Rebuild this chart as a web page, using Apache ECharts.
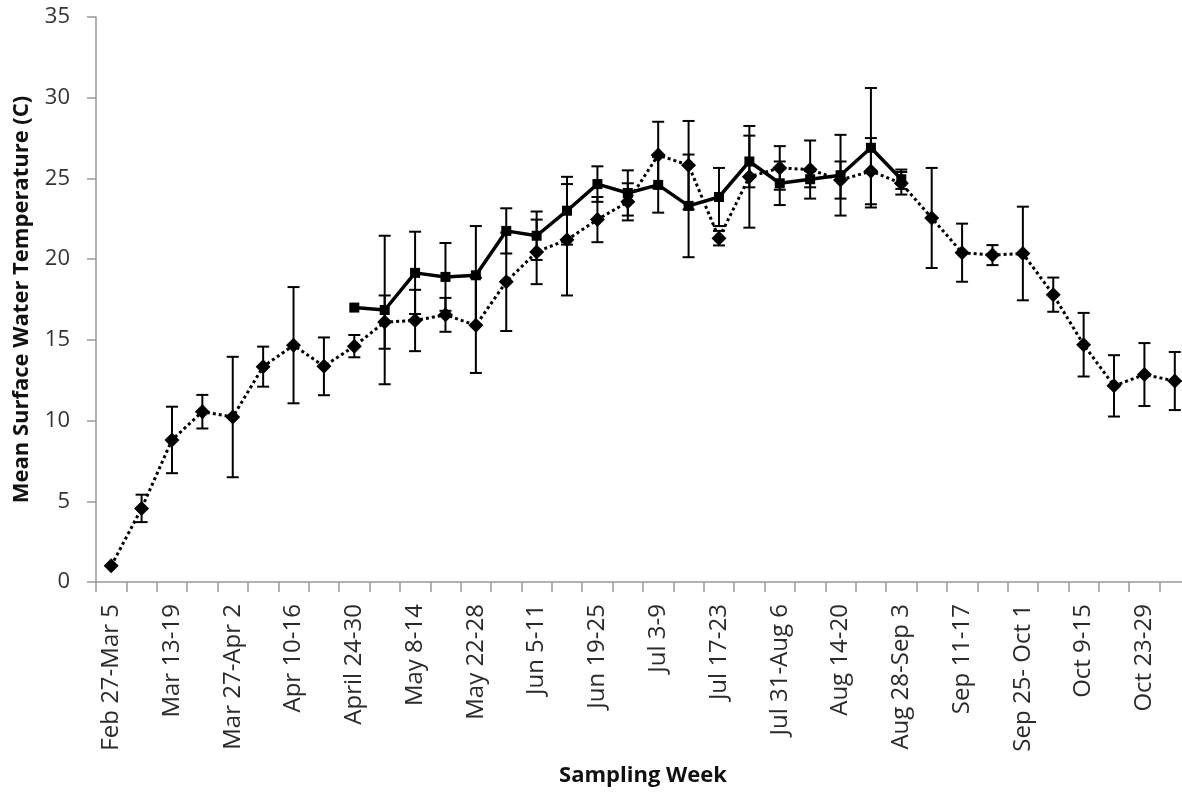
<!DOCTYPE html>
<html>
<head>
<meta charset="utf-8">
<script src="https://cdn.jsdelivr.net/npm/echarts@6/dist/echarts.min.js"></script>
<style>
html,body{margin:0;padding:0;background:#fff;}
#chart{width:1182px;height:792px;}
</style>
</head>
<body>
<div id="chart"></div>
<script>
var categories = ["Feb 27-Mar 5","Mar 6-12","Mar 13-19","Mar 20-26","Mar 27-Apr 2","Apr 3-9","Apr 10-16","Apr 17-23","April 24-30","May 1-7","May 8-14","May 15-21","May 22-28","May 29-Jun 4","Jun 5-11","Jun 12-18","Jun 19-25","Jun 26-Jul 2","Jul 3-9","Jul 10-16","Jul 17-23","Jul 24-30","Jul 31-Aug 6","Aug 7-13","Aug 14-20","Aug 21-27","Aug 28-Sep 3","Sep 4-10","Sep 11-17","Sep 18-24","Sep 25- Oct 1","Oct 2-8","Oct 9-15","Oct 16-22","Oct 23-29","Oct 30-Nov 5"];

var dottedMean = [1.0, 4.56, 8.8, 10.55, 10.22, 13.34, 14.67, 13.36, 14.61, 16.1, 16.2, 16.55, 15.9, 18.6, 20.45, 21.2, 22.45, 23.55, 26.45, 25.82, 21.3, 25.1, 25.65, 25.55, 24.9, 25.45, 24.7, 22.55, 20.4, 20.25, 20.35, 17.8, 14.7, 12.15, 12.85, 12.45];
var dottedErr = [0, 0.85, 2.06, 1.04, 3.73, 1.24, 3.6, 1.79, 0.69, 1.65, 1.9, 1.05, 2.95, 3.05, 2.0, 3.45, 1.4, 1.15, 2.06, 2.74, 0.45, 3.15, 1.35, 1.8, 1.15, 2.05, 0.7, 3.1, 1.8, 0.62, 2.9, 1.06, 1.97, 1.9, 1.95, 1.8];

var solidMean = [null, null, null, null, null, null, null, null, 17.0, 16.85, 19.15, 18.9, 19.0, 21.75, 21.45, 23.0, 24.65, 24.1, 24.6, 23.3, 23.85, 26.05, 24.7, 24.95, 25.2, 26.9, 24.95, null, null, null, null, null, null, null, null, null];
var solidErr = [null, null, null, null, null, null, null, null, 0, 4.6, 2.55, 2.1, 3.05, 1.4, 1.5, 2.1, 1.1, 1.4, 1.72, 3.18, 1.8, 1.6, 1.35, 0.5, 2.5, 3.7, 0.6, null, null, null, null, null, null, null, null, null];

var yTicks = [0, 5, 10, 15, 20, 25, 30, 35];

function errData(mean, err) {
  var out = [];
  for (var i = 0; i < mean.length; i++) {
    if (mean[i] !== null && err[i] !== null && err[i] > 0) out.push([i, mean[i] - err[i], mean[i] + err[i]]);
  }
  return out;
}

function renderErr(params, api) {
  var x = api.value(0);
  var lo = api.coord([x, api.value(1)]);
  var hi = api.coord([x, api.value(2)]);
  var hw = 6;
  var st = {stroke: '#000', lineWidth: 2};
  return {
    type: 'group',
    children: [
      {type: 'line', shape: {x1: lo[0], y1: lo[1], x2: hi[0], y2: hi[1]}, style: st},
      {type: 'line', shape: {x1: lo[0] - hw, y1: lo[1], x2: lo[0] + hw, y2: lo[1]}, style: st},
      {type: 'line', shape: {x1: hi[0] - hw, y1: hi[1], x2: hi[0] + hw, y2: hi[1]}, style: st}
    ]
  };
}

var FONT = 'Open Sans';
var chart = echarts.init(document.getElementById('chart'), null, {renderer: 'canvas'});
chart.setOption({
  animation: false,
  backgroundColor: '#fff',
  grid: {left: 96, right: -8, top: 17, bottom: 210, containLabel: false, outerBoundsMode: 'none'},
  xAxis: {
    type: 'category',
    data: categories,
    boundaryGap: true,
    name: 'Sampling Week',
    nameLocation: 'middle',
    nameGap: 183,
    nameTextStyle: {fontFamily: FONT, fontSize: 22, fontWeight: 'bold', color: '#111'},
    axisLine: {lineStyle: {color: '#999', width: 1.5}},
    axisTick: {show: true, interval: 0, length: 10, lineStyle: {color: '#999', width: 1.5}},
    axisLabel: {interval: 1, rotate: 90, margin: 22, fontFamily: FONT, fontSize: 24, color: '#2a2a2a'},
    splitLine: {show: false}
  },
  yAxis: {
    type: 'value',
    min: yTicks[0],
    max: yTicks[yTicks.length - 1],
    interval: 5,
    name: 'Mean Surface Water Temperature (C)',
    nameLocation: 'middle',
    nameRotate: 90,
    nameGap: 63,
    nameTextStyle: {fontFamily: FONT, fontSize: 22, fontWeight: 'bold', color: '#111'},
    axisLine: {show: true, lineStyle: {color: '#999', width: 1.5}},
    axisTick: {show: true, length: 9, lineStyle: {color: '#999', width: 1.5}},
    axisLabel: {margin: 26, fontFamily: FONT, fontSize: 22, color: '#333'},
    splitLine: {show: false}
  },
  series: [
    {
      type: 'custom',
      name: 'errDotted',
      renderItem: renderErr,
      data: errData(dottedMean, dottedErr),
      encode: {x: 0, y: [1, 2]},
      z: 3,
      silent: true
    },
    {
      type: 'custom',
      name: 'errSolid',
      renderItem: renderErr,
      data: errData(solidMean, solidErr),
      encode: {x: 0, y: [1, 2]},
      z: 3,
      silent: true
    },
    {
      type: 'line',
      name: 'Dotted',
      data: dottedMean,
      symbol: 'diamond',
      symbolSize: 15,
      itemStyle: {color: '#000'},
      lineStyle: {color: '#000', width: 3, type: 'dotted'},
      z: 4
    },
    {
      type: 'line',
      name: 'Solid',
      data: solidMean,
      connectNulls: false,
      symbol: 'rect',
      symbolSize: 10,
      itemStyle: {color: '#000'},
      lineStyle: {color: '#000', width: 3.5, type: 'solid'},
      z: 5
    }
  ]
});
</script>
</body>
</html>
